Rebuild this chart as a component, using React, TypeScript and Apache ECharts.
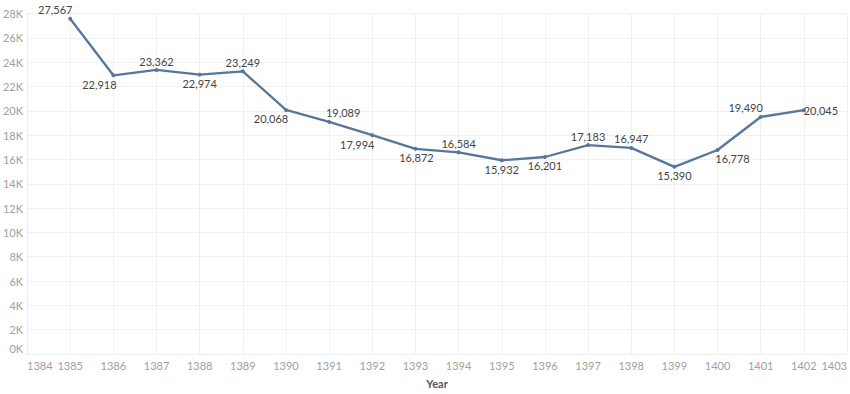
import React, { useEffect, useRef } from "react";
import * as echarts from "echarts";

const years = [1385, 1386, 1387, 1388, 1389, 1390, 1391, 1392, 1393, 1394, 1395, 1396, 1397, 1398, 1399, 1400, 1401, 1402];
const values = [27567, 22918, 23362, 22974, 23249, 20068, 19089, 17994, 16872, 16584, 15932, 16201, 17183, 16947, 15390, 16778, 19490, 20045];
// label center offsets relative to each point (style only)
const labelOffsets: [number, number][] = [
  [-15, -9], [-14, 9], [0, -8], [0, 9], [0, -9], [-15, 9], [14, -9], [-15, 9], [1, 9],
  [0, -9], [0, 9], [0, 9], [0, -9], [0, -9], [0, 9], [15, 9], [-15, -9], [17, 0],
];
const yTicksMin = 0;
const yTicksMax = 28000;
const yTickStep = 2000;
const xMin = 1384;
const xMax = 1403;
const xTitle = "Year";

export default function App() {
  const ref = useRef<HTMLDivElement>(null);
  useEffect(() => {
    document.body.style.margin = "0";
    const chart = echarts.init(ref.current!, undefined, { renderer: "svg" });
    const lineColor = "#56779b";
    const font = "Lato, 'Open Sans', sans-serif";
    chart.setOption({
      animation: false,
      backgroundColor: "#ffffff",
      grid: { left: 26, right: 1, top: 13.5, bottom: 35, containLabel: false },
      xAxis: {
        type: "value",
        min: xMin,
        max: xMax,
        interval: 1,
        name: xTitle,
        nameLocation: "middle",
        nameGap: 24,
        nameTextStyle: { color: "#555", fontSize: 11, fontWeight: "bold", fontFamily: font },
        axisLine: { show: true, lineStyle: { color: "#eeeeee" } },
        axisTick: { show: false },
        splitLine: { show: true, lineStyle: { color: "#f0f0f0", width: 1 } },
        axisLabel: {
          color: "#a0a0a0",
          fontSize: 11,
          fontFamily: font,
          margin: 6,
          alignMinLabel: "left",
          alignMaxLabel: "right",
          formatter: (v: number) => String(v),
        },
      },
      yAxis: {
        type: "value",
        min: yTicksMin,
        max: yTicksMax,
        interval: yTickStep,
        axisLine: { show: true, lineStyle: { color: "#eeeeee" } },
        axisTick: { show: false },
        splitLine: { show: true, lineStyle: { color: "#f0f0f0", width: 1 } },
        axisLabel: {
          color: "#a0a0a0",
          fontSize: 11,
          fontFamily: font,
          margin: 4,
          verticalAlignMinLabel: "bottom",
          formatter: (v: number) => `${v / 1000}K`,
        },
      },
      series: [
        {
          type: "line",
          data: years.map((y, i) => ({
            value: [y, values[i]],
            label: { offset: labelOffsets[i] },
          })),
          symbol: "circle",
          symbolSize: 4,
          lineStyle: { color: lineColor, width: 2.3 },
          itemStyle: { color: lineColor },
          label: {
            show: true,
            position: "inside",
            align: "center",
            verticalAlign: "middle",
            color: "#444",
            fontSize: 11,
            fontFamily: font,
            formatter: (p: any) => Number(p.value[1]).toLocaleString("en-US"),
          },
        },
      ],
    });
    return () => chart.dispose();
  }, []);
  return <div ref={ref} style={{ position: "absolute", left: 0, top: 0, width: 850, height: 394 }} />;
}
